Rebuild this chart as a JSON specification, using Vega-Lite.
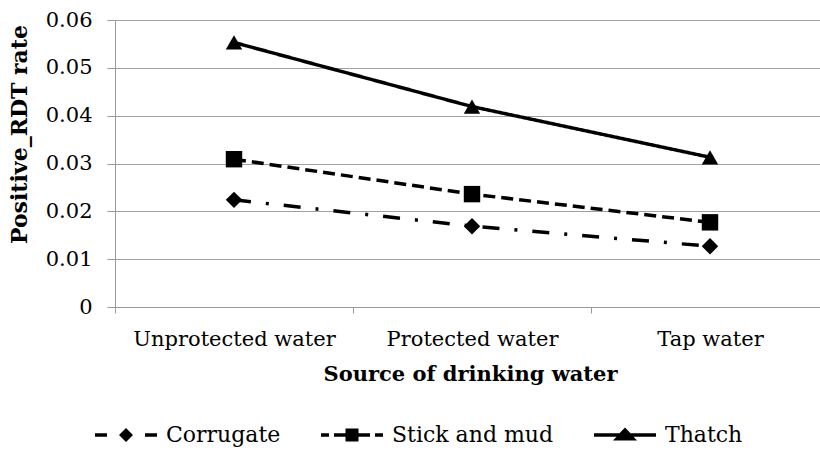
{
  "$schema": "https://vega.github.io/schema/vega-lite/v6.json",
  "width": 705,
  "height": 287,
  "autosize": {"type": "none"},
  "padding": {"left": 115, "top": 20, "right": 0, "bottom": 145},
  "background": "white",
  "data": {
    "values": [
      {"source": "Unprotected water", "roof": "Corrugate", "rate": 0.0224},
      {"source": "Protected water", "roof": "Corrugate", "rate": 0.0169},
      {"source": "Tap water", "roof": "Corrugate", "rate": 0.0127},
      {"source": "Unprotected water", "roof": "Stick and mud", "rate": 0.0309},
      {"source": "Protected water", "roof": "Stick and mud", "rate": 0.0236},
      {"source": "Tap water", "roof": "Stick and mud", "rate": 0.0177},
      {"source": "Unprotected water", "roof": "Thatch", "rate": 0.0553},
      {"source": "Protected water", "roof": "Thatch", "rate": 0.0419},
      {"source": "Tap water", "roof": "Thatch", "rate": 0.0313}
    ]
  },
  "encoding": {
    "x": {
      "field": "source",
      "type": "nominal",
      "sort": ["Unprotected water", "Protected water", "Tap water"],
      "scale": {"range": [0, 714], "paddingInner": 0, "paddingOuter": 0},
      "axis": {
        "title": "Source of drinking water",
        "labelAngle": 0,
        "labelLimit": 0,
        "labelFont": "'DejaVu Serif', 'Liberation Serif', serif",
        "labelFontSize": 21,
        "labelColor": "black",
        "labelPadding": 15,
        "tickBand": "extent",
        "tickSize": 6,
        "tickColor": "#999",
        "domainColor": "#999",
        "titleFont": "'DejaVu Serif', 'Liberation Serif', serif",
        "titleFontSize": 21,
        "titleFontWeight": "bold",
        "titleColor": "black",
        "titleBaseline": "alphabetic",
        "titleY": 73,
        "titleX": 355,
        "titleLimit": 0,
        "grid": false
      }
    },
    "y": {
      "field": "rate",
      "type": "quantitative",
      "scale": {"domain": [0, 0.06], "nice": false},
      "axis": {
        "title": "Positive_RDT rate",
        "values": [0, 0.01, 0.02, 0.03, 0.04, 0.05, 0.06],
        "format": ".2~f",
        "labelFont": "'DejaVu Serif', 'Liberation Serif', serif",
        "labelFontSize": 21,
        "labelColor": "black",
        "labelPadding": 15,
        "tickSize": 8,
        "tickColor": "#999",
        "domainColor": "#999",
        "gridColor": "#a0a0a0",
        "gridWidth": 1.2,
        "titleFont": "'DejaVu Serif', 'Liberation Serif', serif",
        "titleFontSize": 22,
        "titleFontWeight": "bold",
        "titleColor": "black",
        "titleLimit": 0,
        "titleX": -84,
        "titleY": 114
      }
    }
  },
  "layer": [
    {
      "mark": {"type": "line", "color": "black", "strokeWidth": 3.5, "strokeCap": "butt"},
      "encoding": {
        "strokeDash": {
          "field": "roof",
          "type": "nominal",
          "scale": {"domain": ["Corrugate", "Stick and mud", "Thatch"], "range": [[17, 15, 3, 15], [12, 6], [1, 0]]},
          "legend": null
        }
      }
    },
    {
      "mark": {"type": "point", "filled": true, "color": "black", "opacity": 1, "size": 270},
      "encoding": {
        "shape": {
          "field": "roof",
          "type": "nominal",
          "scale": {"domain": ["Corrugate", "Stick and mud", "Thatch"], "range": ["diamond", "square", "triangle-up"]},
          "legend": null
        }
      }
    },
    {
      "mark": {"type": "point", "filled": true, "color": "black", "opacity": 0},
      "encoding": {
        "shape": {
          "field": "roof",
          "type": "nominal",
          "scale": {
            "domain": ["Corrugate", "Stick and mud", "Thatch"],
            "range": [
              "M-3.1,-0.17H-1.9V0.17H-3.1Z M0,-0.7L0.7,0L0,0.7L-0.7,0Z M1.9,-0.17H3.1V0.17H1.9Z",
              "M-3.1,-0.17H-2.3V0.17H-3.1Z M-1.8,-0.17H-0.65V-0.65H0.65V-0.17H1.8V0.17H0.65V0.65H-0.65V0.17H-1.8Z M2.3,-0.17H3.1V0.17H2.3Z",
              "M-3.1,-0.17H-0.55L0,-0.75L0.55,-0.17H3.1V0.17H0.85L1.2,0.55H-1.2L-0.85,0.17H-3.1Z"
            ]
          },
          "legend": {
            "title": null,
            "orient": "bottom",
            "direction": "horizontal",
            "symbolSize": 400,
            "symbolOpacity": 1,
            "symbolFillColor": "black",
            "symbolStrokeWidth": 0,
            "labelFont": "'DejaVu Serif', 'Liberation Serif', serif",
            "labelFontSize": 22,
            "labelLimit": 0,
            "labelColor": "black",
            "labelOffset": 29,
            "columnPadding": 40,
            "offset": 40
          }
        }
      }
    }
  ],
  "resolve": {"scale": {"shape": "independent"}, "legend": {"shape": "independent"}},
  "config": {"view": {"stroke": null}, "font": "'DejaVu Serif', 'Liberation Serif', serif"}
}
